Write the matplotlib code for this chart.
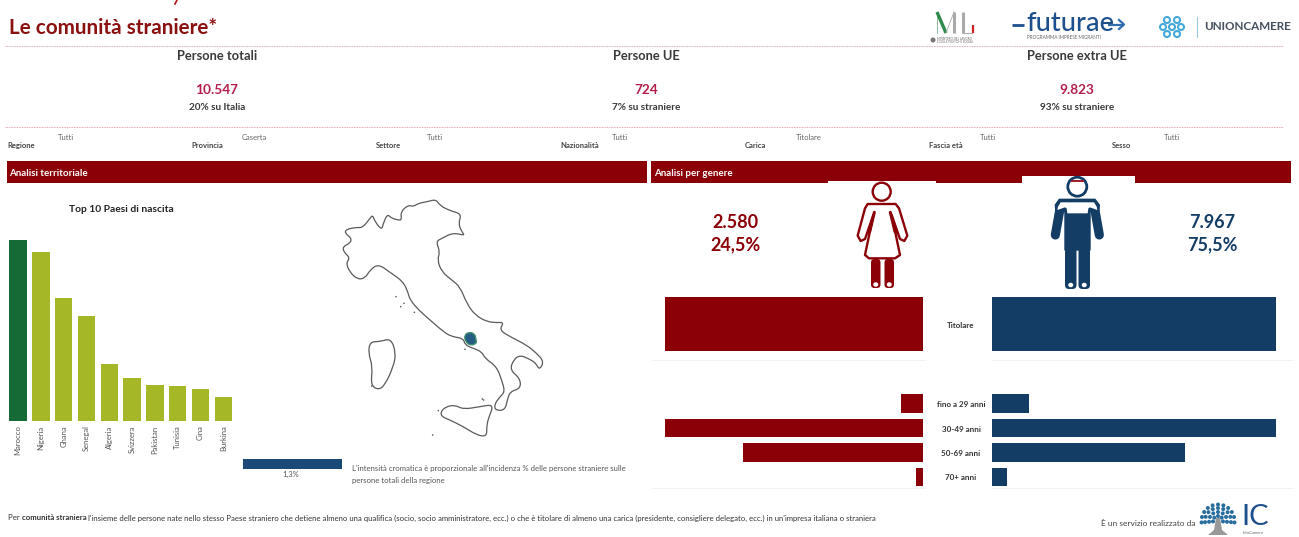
import numpy as np
import matplotlib
matplotlib.use("Agg")
import matplotlib.pyplot as plt
from matplotlib.patches import Ellipse, Polygon, Rectangle, FancyBboxPatch, Circle, PathPatch
from matplotlib.path import Path

plt.rcParams['font.family'] = ['Lato', 'DejaVu Sans']

W, H = 1299, 537
RED = '#8b0007'
BLUE = '#143d66'
CRIMSON = '#b31f4a'
DARK = '#333333'

# ---- data ----
countries = ['Marocco', 'Nigeria', 'Ghana', 'Senegal', 'Algeria', 'Svizzera', 'Pakistan', 'Tunisia', 'Cina', 'Burkina']
country_values = [1632, 1524, 1107, 945, 516, 393, 324, 318, 288, 222]
role_label = ['Titolare']
female_role = [2580]
male_role = [7967]
age_labels = ['fino a 29 anni', '30-49 anni', '50-69 anni', '70+ anni']
female_age = [122, 1426, 995, 36]
male_age = [563, 4285, 2905, 219]
kpi_titles = ['Persone totali', 'Persone UE', 'Persone extra UE']
kpi_values = ['10.547', '724', '9.823']
kpi_notes = ['20% su Italia', '7% su straniere', '93% su straniere']
filter_names = ['Regione', 'Provincia', 'Settore', 'Nazionalità', 'Carica', 'Fascia età', 'Sesso']
filter_values = ['Tutti', 'Caserta', 'Tutti', 'Tutti', 'Titolare', 'Tutti', 'Tutti']

# map outlines (drawing units of the map illustration)
north = [(52,253),(30,232),(18,205),(30,188),(12,172),(8,155),(30,145),(35,130),(15,115),(18,103),(50,97),(68,98),(90,70),(98,60),(105,80),(125,105),(130,85),(142,57),(155,70),(175,75),(185,75),(182,50),(205,30),(220,35),(235,25),(262,20),(288,13),(300,32),(330,47)]
northeast = [(395,72),(385,100),(395,125),(405,137),(370,128),(335,145),(318,155),(330,185),(322,210),(335,245),(365,270),(390,290)]
south = [(110,40),(135,75),(170,95),(200,98),(222,97),(208,120),(240,140),(290,165),(320,190),(342,215),(328,240),(318,220),(300,208),(270,195),(250,210),(240,240),(270,265),(272,295),(240,305),(232,330),(225,360),(198,362),(192,345),(210,320),(225,305),(215,270),(200,230),(165,205),(155,185),(130,175),(105,165),(100,145),(65,140),(40,125),(0,90)]
west = [(268,362),(240,330)]
tuscany = [(205,295),(190,260),(150,232),(115,207),(90,225),(75,250)]
sardinia = [(120,455),(115,490),(128,530),(122,585),(145,600),(165,585),(190,530),(198,490),(183,445),(150,455)]
sicily = [(32,365),(48,350),(75,345),(100,358),(150,350),(192,343),(175,385),(170,410),(170,440),(140,435),(100,410),(60,390),(35,380)]
caserta = [(103,135),(118,126),(135,132),(138,150),(140,160),(122,167),(106,155)]
islets = [(198,320),(222,340),(212,350),(253,367),(335,257),(405,478),(457,627),(308,735),(325,662),(125,588),(461,630)]

fig = plt.figure(figsize=(W/100, H/100), dpi=100, facecolor='white')

def axes_px(x0, y0, x1, y1):
    return fig.add_axes([x0/W, 1-y1/H, (x1-x0)/W, (y1-y0)/H])

bg = axes_px(0, 0, W, H)
bg.set_xlim(0, W); bg.set_ylim(H, 0); bg.axis('off')

def T(x, y, s, size=8, color=DARK, weight='normal', ha='left', va='center', **k):
    return bg.text(x, y, s, fontsize=size, color=color, fontweight=weight, ha=ha, va=va, **k)

def to_px(p, ox, oy):
    return [(ox + x/3, oy + y/3) for x, y in p]

def smooth(points, fc='white', ec='#5a5a5a', lw=0.9, z=2):
    """closed outline rounded through the midpoints of its segments"""
    p = np.array(points, float)
    mids = (p + np.roll(p, -1, axis=0)) / 2
    verts, codes = [tuple(mids[-1])], [Path.MOVETO]
    for i in range(len(p)):
        verts += [tuple(p[i]), tuple(mids[i])]
        codes += [Path.CURVE3, Path.CURVE3]
    patch = PathPatch(Path(verts, codes), fc=fc, ec=ec, lw=lw, zorder=z, joinstyle='round')
    bg.add_patch(patch)
    return patch

# header
bg.plot([177, 175], [0, 4], color='#c0101a', lw=1.2)
T(9, 28, 'Le comunità straniere*', 14.9, '#8b1010', 'bold')
for y in (46, 127):
    bg.plot([5, 1283], [y, y], color='#d98a94', lw=0.6, ls=(0, (1, 1)))

for x, t, v, n in zip((217, 646, 1077), kpi_titles, kpi_values, kpi_notes):
    T(x, 55.5, t, 9.3, '#3a3a3a', 'bold', ha='center')
    T(x, 89.5, v, 9.8, CRIMSON, 'bold', ha='center')
    T(x, 107.5, n, 7.2, '#3a3a3a', 'bold', ha='center')

for xn, xv, n, v in zip((7, 191, 376, 560, 745, 929, 1112), (58, 242, 427, 612, 796, 980, 1164), filter_names, filter_values):
    T(xn, 145.5, n, 5.5, '#444444', 'bold')
    T(xv, 137.5, v, 5.5, '#666666')

# section bands
bg.add_patch(Rectangle((7, 161), 640, 22, fc=RED, ec='none'))
bg.add_patch(Rectangle((651, 161), 640, 22, fc=RED, ec='none'))
bg.add_patch(Rectangle((828, 181), 108, 3, fc='white', ec='none'))
bg.add_patch(Rectangle((1022, 176), 113, 8, fc='white', ec='none'))
T(9, 173, 'Analisi territoriale', 7, 'white', 'bold')
T(654, 173, 'Analisi per genere', 7, 'white', 'bold')

# top countries chart
T(121, 209.5, 'Top 10 Paesi di nascita', 7.4, '#222222', 'bold', ha='center')
ax = axes_px(6.7, 240, 234.7, 421.3)
colors = ['#166a35'] + ['#a5b727'] * 9
ax.bar(range(len(countries)), country_values, width=0.755, color=colors)
ax.set_xlim(-0.5, 9.5); ax.set_ylim(0, max(country_values))
ax.set_yticks([])
ax.set_xticks(range(len(countries)), countries, rotation=90, fontsize=5.5, color='#555555')
ax.tick_params(axis='x', length=0, pad=3)
for s in ax.spines.values():
    s.set_visible(False)
ax.patch.set_alpha(0)

# map
mainland = (to_px(north, 340, 195) + to_px(northeast, 330, 190) + to_px(south, 430, 290)
            + to_px(west, 330, 190) + to_px(tuscany, 340, 195))
smooth(mainland)
smooth(to_px(sardinia, 330, 190))
smooth(to_px(sicily, 430, 290))
smooth(to_px(caserta, 430, 290), fc='#245c84', ec='#3f8f6a', lw=1.0, z=3)
for (x, y) in to_px(islets, 330, 190):
    bg.add_patch(Circle((x, y), 0.8, fc='#555555', ec='none'))

# map legend
bg.add_patch(Rectangle((243, 459), 99, 10, fc='#1b4a78', ec='none'))
T(291, 474, '1,3%', 5.5, '#555555', ha='center')
T(352, 468, "L'intensità cromatica è proporzionale all'incidenza % delle persone straniere sulle", 5.6, '#555555')
T(352, 480, 'persone totali della regione', 5.6, '#555555')

# gender totals
T(735.5, 222, '2.580', 13, RED, 'bold', ha='center')
T(735.5, 245, '24,5%', 13, RED, 'bold', ha='center')
T(1212, 222, '7.967', 13, BLUE, 'bold', ha='center')
T(1212, 245, '75,5%', 13, BLUE, 'bold', ha='center')

def limb(pts, color, lw, z=4):
    xs, ys = zip(*pts)
    bg.plot(xs, ys, color=color, lw=lw, solid_capstyle='round', solid_joinstyle='round', zorder=z)

# woman icon
WX, WY = 845, 175
bg.add_patch(Ellipse((881.7, 191.7), 18, 18, fc='white', ec=RED, lw=1.7, zorder=3))
woman = [(68,87),(152,87),(162,100),(187,182),(178,198),(165,192),(140,120),(165,240),(150,250),(72,250),(60,240),(85,120),(60,192),(47,198),(38,182),(60,100)]
bg.add_patch(Polygon(to_px(woman, WX, WY), closed=True, fc='white', ec=RED, lw=1.7, joinstyle='round', zorder=3))
limb(to_px([(88,112),(74,170)], WX, WY), RED, 2.2)
limb(to_px([(136,112),(150,170)], WX, WY), RED, 2.2)
for lx in (871, 884.5):
    bg.add_patch(FancyBboxPatch((lx, 259), 9.5, 29, boxstyle='round,pad=0,rounding_size=3.5', fc=RED, ec='none', zorder=3))
    bg.add_patch(Ellipse((lx + 4.75, 284.5), 5, 4.5, fc='white', ec='none', zorder=4))

# man icon
MX, MY = 1040, 170
bg.add_patch(Ellipse((1077.3, 186.7), 19, 19, fc='white', ec=BLUE, lw=2.0, zorder=3))
bg.add_patch(Rectangle((1071, 180), 13, 1.8, fc='#a02030', ec='none', zorder=4))
man = [(58,88),(165,88),(178,105),(176,125),(150,125),(150,240),(75,240),(75,125),(48,125),(46,105)]
bg.add_patch(Polygon(to_px(man, MX, MY), closed=True, fc=BLUE, ec=BLUE, lw=1.0, joinstyle='round', zorder=3))
limb(to_px([(62,105),(46,195)], MX, MY), BLUE, 6.6, z=3)
limb(to_px([(162,105),(178,195)], MX, MY), BLUE, 6.6, z=3)
shoulders = [(62,97),(162,97),(170,110),(172,120),(150,112),(145,115),(143,130),(82,130),(80,115),(75,112),(52,120),(54,110)]
bg.add_patch(Polygon(to_px(shoulders, MX, MY), closed=True, fc='white', ec='none', zorder=4))
for lx in (1065, 1078.5):
    bg.add_patch(FancyBboxPatch((lx, 248), 11.5, 41, boxstyle='round,pad=0,rounding_size=4', fc=BLUE, ec='none', zorder=3))
    bg.add_patch(Ellipse((lx + 5.75, 285), 5, 4.5, fc='white', ec='none', zorder=4))

# gender bars
def side(values, labels_n, x0, x1, y0, y1, color, invert, height):
    a = axes_px(x0, y0, x1, y1)
    a.barh(range(labels_n), values, height=height, color=color)
    a.set_ylim(labels_n - 0.5, -0.5)
    a.set_xlim((max(values), 0) if invert else (0, max(values)))
    a.set_xticks([]); a.set_yticks([])
    for s in a.spines.values():
        s.set_visible(False)
    a.patch.set_alpha(0)
    return a

side(female_role, 1, 665, 923, 297, 351, RED, True, 1.0)
side(male_role, 1, 992, 1276, 297, 351, BLUE, False, 1.0)
side(female_age, 4, 665, 923, 391.3, 489.3, RED, True, 0.76)
side(male_age, 4, 992, 1276, 391.3, 489.3, BLUE, False, 0.76)

T(961, 325, role_label[0], 5.8, '#333333', 'bold', ha='center')
for i, l in enumerate(age_labels):
    T(961, 404.5 + 24.5 * i, l, 5.8, '#333333', 'bold', ha='center')

for y in (360, 488):
    bg.plot([652, 925], [y, y], color='#f2f2f2', lw=0.7)
    bg.plot([992, 1292], [y, y], color='#f2f2f2', lw=0.7)

# footer
parts = [('Per ', 'normal'), ('comunità straniera', 'bold'),
         (" l'insieme delle persone nate nello stesso Paese straniero che detiene almeno una qualifica (socio, socio amministratore, ecc.) o che è titolare di almeno una carica (presidente, consigliere delegato, ecc.) in un'impresa italiana o straniera", 'normal')]
fig.canvas.draw()
r = fig.canvas.get_renderer()
xpos = 8.0
for s, w in parts:
    tt = T(xpos, 518, s.replace(' ', '\u00a0'), 5.55, '#333333', w)
    xpos += tt.get_window_extent(r).width

T(1101, 524, 'È un servizio realizzato da', 6.0, '#444444')

# logos: Ministero
bg.plot([937, 937], [12, 33], color='#7fb08e', lw=0.6)
bg.plot([937, 946], [12, 33], color='#2f8a4d', lw=2.4, solid_capstyle='butt')
bg.plot([946, 954], [33, 12], color='#aaaaaa', lw=0.6)
bg.plot([954, 954], [12, 33], color='#aaaaaa', lw=2.2, solid_capstyle='butt')
bg.plot([963, 963], [12, 33], color='#aaaaaa', lw=2.2, solid_capstyle='butt')
bg.plot([963, 972], [33, 33], color='#aaaaaa', lw=0.7)
bg.plot([973, 973], [33, 25], color='#d02020', lw=1.6, solid_capstyle='butt')
bg.add_patch(Circle((933, 40), 2.5, fc='#777777', ec='none'))
T(937, 38.5, 'MINISTERO DEL LAVORO', 2.2, '#666666')
T(937, 42, 'E DELLE POLITICHE SOCIALI', 2.0, '#666666')

# logos: Futurae
bg.plot([1012, 1024], [24.5, 24.5], color='#1d4f8c', lw=2.0, solid_capstyle='butt')
T(1026, 23.5, 'futurae', 19.5, '#1d4f8c', 'medium')
bg.plot([1108, 1123], [24.5, 24.5], color='#2f6db0', lw=1.6, solid_capstyle='butt')
bg.plot([1119, 1124, 1119], [20, 24.5, 29], color='#2f6db0', lw=1.6)
T(1027, 37.5, 'PROGRAMMA IMPRESE MIGRANTI', 3.3, '#666666')

# logos: Unioncamere
for cx, cy in [(1167, 20), (1177, 20), (1163, 27), (1172, 27), (1181, 27), (1167, 34), (1177, 34)]:
    bg.add_patch(Circle((cx, cy), 3, fc='none', ec='#45a8d8', lw=1.5))
bg.plot([1197, 1197], [17, 37], color='#9cc9e4', lw=0.8)
T(1204, 27, 'UNIONCAMERE', 8.4, '#44505c', 'bold')

# logos: InfoCamere
for radius, n in ((5, 5), (9, 7), (13, 9), (16.5, 11)):
    for ang in np.linspace(-5, 185, n):
        a = np.deg2rad(ang)
        bg.add_patch(Circle((1218 + radius*np.cos(a), 521 - radius*np.sin(a)), 2.0, fc='#2a6ea0', ec='none'))
bg.add_patch(Polygon([(1216, 518), (1220, 518), (1222, 530), (1228, 535), (1208, 535), (1214, 530)], closed=True, fc='#999999', ec='none'))
T(1241, 517, 'IC', 21, '#1d4f8c')
T(1243, 533, 'InfoCamere', 3, '#666666')

fig.savefig('out.png', dpi=100, facecolor='white')
